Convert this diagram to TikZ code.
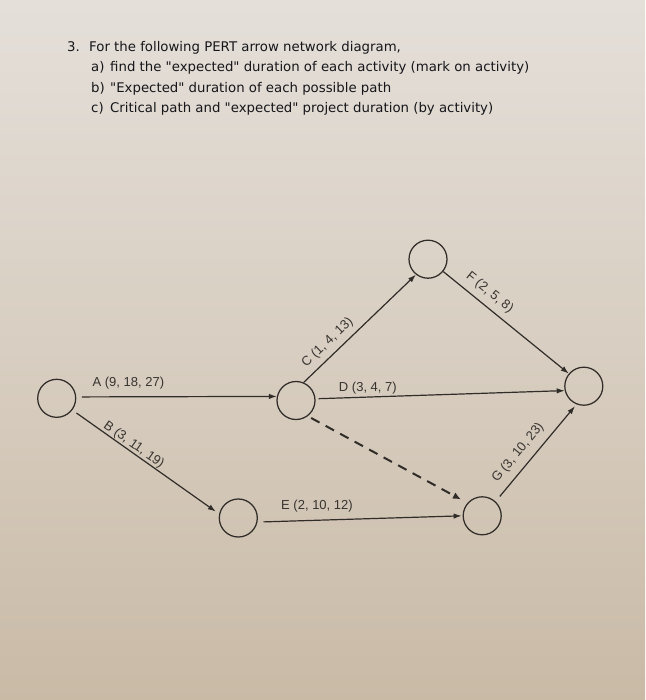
\documentclass[tikz,border=0pt]{standalone}
\usepackage{fontspec}
\setmainfont{Liberation Sans}
\newfontfamily\titlefont{DejaVu Sans}
\usetikzlibrary{arrows.meta}
\definecolor{paperTop}{RGB}{228,223,217}
\definecolor{paperMid}{RGB}{216,206,193}
\definecolor{paperBot}{RGB}{201,186,166}
\definecolor{ink}{RGB}{48,44,40}
\definecolor{labink}{RGB}{55,51,47}
\definecolor{titleink}{RGB}{22,22,26}
\tikzset{
  event/.style={circle, draw=ink, line width=1.25pt, minimum size=38pt, inner sep=0pt},
  act/.style={draw=ink, line width=1.2pt, -{Latex[length=8pt,width=5.5pt]}},
  dummy/.style={draw=ink, line width=2pt, dash pattern=on 9.5pt off 7pt, -{Latex[length=8pt,width=7pt]}},
  lab/.style={font=\fontsize{13}{15}\selectfont, text=labink, inner sep=1pt},
  titletext/.style={font=\titlefont\fontsize{13.3}{16}\selectfont, text=titleink, anchor=base west, inner sep=0pt}
}
\begin{document}
\begin{tikzpicture}[x=1pt,y=-1pt]
\fill[top color=paperTop, bottom color=paperBot, middle color=paperMid] (0,0) rectangle (645,700);
\useasboundingbox (0,0) rectangle (645,700);

% question text
\node[titletext] (qn) at (67,52) {3.};
\node[titletext] (q0) at (89,52) {For the following PERT arrow network diagram,};
\node[titletext] (qa) at (91,72) {a)};
\node[titletext] (qa1) at (110,72) {find the "expected" duration of each activity (mark on activity)};
\node[titletext] (qb) at (91,92.5) {b)};
\node[titletext] (qb1) at (110,92.5) {"Expected" duration of each possible path};
\node[titletext] (qc) at (91,113) {c)};
\node[titletext] (qc1) at (110,113) {Critical path and "expected" project duration (by activity)};

% events
\node[event] (n1) at (56.7,398.3) {};
\node[event] (n2) at (296,400.5) {};
\node[event] (n3) at (238.3,518) {};
\node[event] (n4) at (428,259.2) {};
\node[event] (n5) at (583.8,386.2) {};
\node[event] (n6) at (482.2,515.8) {};

% activities
\draw[act, shorten <=5.5pt] (n1.4) -- node[lab, pos=0.26, above=6.3pt] (la) {A (9, 18, 27)} (n2.168);
\draw[act, shorten <=5pt, shorten >=4pt] (n1.-37) -- node[lab, sloped, pos=0.39, above=-0.5pt] (lb) {B (3, 11, 19)} (n3.168);
\draw[act] (n2.67) -- node[lab, sloped, pos=0.29, above=4.8pt] (lc) {C (1, 4, 13)} (n4.232);
\draw[act, shorten <=3pt] (n2.5.6) -- node[lab, pos=0.21, above=1.3pt] (ld) {D (3, 4, 7)} (n5.193.5);
\draw[dummy, shorten <=3.8pt, shorten >=7.4pt] (n2.-53) -- (n6.139.5);
\draw[act, shorten <=6pt, shorten >=1pt] (n3.-12) -- node[lab, pos=0.29, above=6.1pt] (le) {E (2, 10, 12)} (n6.180);
\draw[act] (n4.-39) -- node[lab, sloped, pos=0.306, above=5.1pt] (lf) {F (2, 5, 8)} (n5.140);
\draw[act, shorten <=6.5pt, shorten >=2.4pt] (n6.47) -- node[lab, sloped, pos=0.41, above=6.3pt] (lg) {G (3, 10, 23)} (n5.248);
\end{tikzpicture}
\end{document}
